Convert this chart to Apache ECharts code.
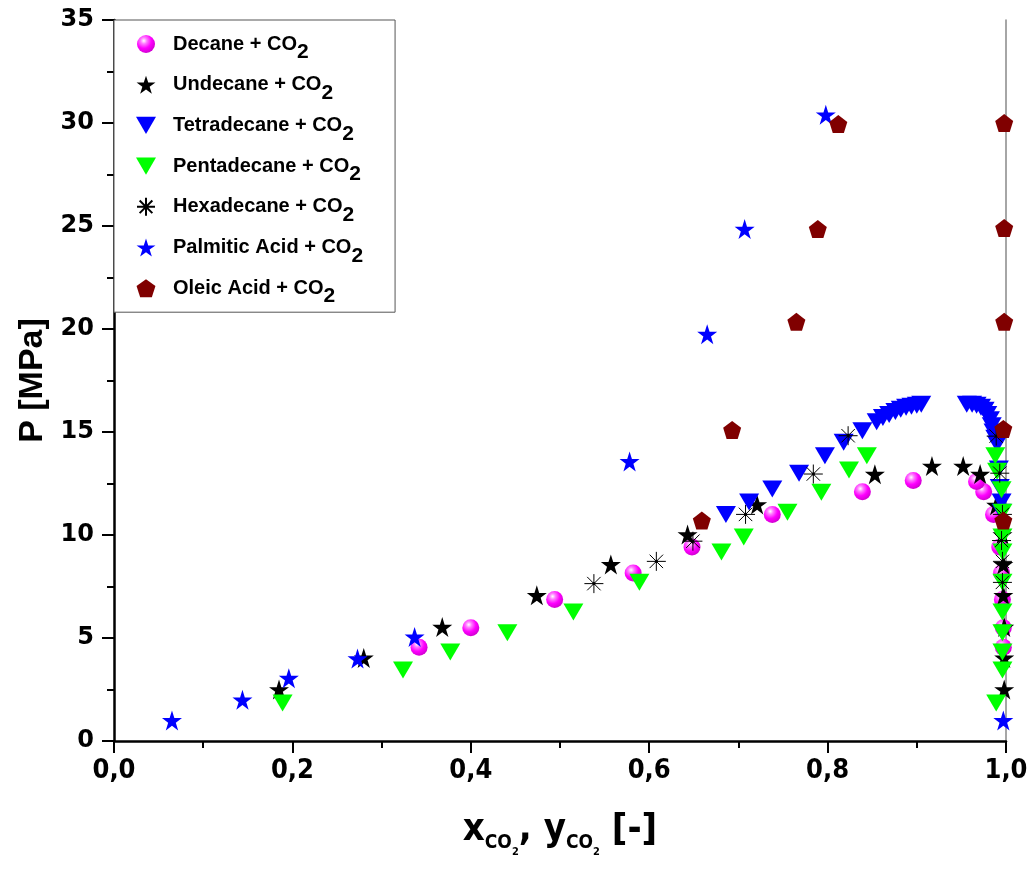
<!DOCTYPE html>
<html><head><meta charset="utf-8">
<script src="https://cdn.jsdelivr.net/npm/echarts@6/dist/echarts.min.js"></script>
<style>html,body{margin:0;padding:0;background:#fff}#c{width:1032px;height:872px}</style>
</head><body><div id="c"></div>
<script>
// ---- data (x = CO2 mole fraction, P in MPa) ----
const seriesNames = ['Decane + CO2','Undecane + CO2','Tetradecane + CO2','Pentadecane + CO2','Hexadecane + CO2','Palmitic Acid + CO2','Oleic Acid + CO2'];

const decaneX = [0.342,0.400,0.494,0.582,0.648,0.738,0.839,0.896,0.997,0.997,0.996,0.995,0.993,0.986,0.975,0.967];
const decaneP = [4.55,5.50,6.87,8.15,9.42,11.00,12.10,12.65,4.55,5.50,6.87,8.15,9.42,11.00,12.10,12.60];

const undecaneX = [0.185,0.280,0.368,0.474,0.557,0.643,0.721,0.853,0.917,0.998,0.998,0.998,0.997,0.997,0.996,0.989,0.971,0.952];
const undecaneP = [2.50,4.03,5.53,7.07,8.57,10.02,11.48,12.95,13.35,2.50,4.03,5.53,7.07,8.57,10.02,11.45,12.96,13.35];

const tetradecaneX = [0.686,0.712,0.738,0.768,0.797,0.818,0.839,0.855,0.862,0.869,0.876,0.882,0.888,0.894,0.900,0.905,0.956,0.962,0.967,0.972,0.976,0.979,0.982,0.984,0.986,0.988,0.990,0.992,0.993,0.995,0.995];
const tetradecaneP = [11.00,11.60,12.23,13.00,13.85,14.50,15.06,15.50,15.70,15.85,16.00,16.10,16.20,16.25,16.30,16.35,16.35,16.35,16.30,16.20,16.05,15.85,15.60,15.30,15.00,14.70,14.40,13.20,12.30,11.60,11.10];

const pentadecaneX = [0.189,0.324,0.377,0.441,0.515,0.589,0.681,0.706,0.755,0.793,0.824,0.844,0.989,0.996,0.996,0.996,0.996,0.996,0.996,0.996,0.996,0.995,0.990,0.988];
const pentadecaneP = [1.85,3.45,4.32,5.25,6.26,7.71,9.17,9.90,11.10,12.07,13.15,13.85,1.85,3.45,4.32,5.25,6.26,7.71,9.17,9.90,11.10,12.20,13.10,13.85];

const hexadecaneX = [0.538,0.608,0.649,0.708,0.784,0.823,0.996,0.996,0.995,0.996,0.993,0.989];
const hexadecaneP = [7.64,8.72,9.70,11.00,12.96,14.82,7.70,8.72,9.73,11.00,13.00,14.80];

const palmiticX = [0.065,0.144,0.196,0.273,0.337,0.578,0.665,0.707,0.798,0.997];
const palmiticP = [1.00,2.00,3.05,4.00,5.05,13.57,19.75,24.85,30.40,1.00];

const oleicX = [0.659,0.693,0.765,0.789,0.812,0.997,0.997,0.998,0.998,0.998];
const oleicP = [10.70,15.10,20.35,24.85,29.95,10.70,15.15,20.35,24.90,30.00];

const xTickValues = [0.0,0.2,0.4,0.6,0.8,1.0];
const yTickValues = [0,5,10,15,20,25,30,35];

// ---- symbols ----
const STAR = 'path://M10,0 L12.245,6.91 L19.511,6.91 L13.633,11.18 L15.878,18.09 L10,13.82 L4.122,18.09 L6.367,11.18 L0.489,6.91 L7.755,6.91 Z';
const PENT = 'path://M10,0 L19.511,6.91 L15.878,18.09 L4.122,18.09 L0.489,6.91 Z';
const TRI = 'path://M0,0 L20,0 L10,17.3 Z';
const AST = 'path://M10,0 L10,20 M0,10 L20,10 M2.93,2.93 L17.07,17.07 M17.07,2.93 L2.93,17.07 M9,9 L11,9 L11,11 L9,11 Z';

function zip(xs, ps){ return xs.map((x,i)=>[x, ps[i]]); }

const NARROW = "'DejaVu Sans Condensed', 'Liberation Sans Narrow', 'Arial Narrow', sans-serif";

const sphere = {type:'radial', x:0.38, y:0.32, r:0.7, colorStops:[
  {offset:0, color:'#ffffff'},{offset:0.25, color:'#ff7bff'},{offset:0.6, color:'#ff00ff'},{offset:1, color:'#d000d0'}]};

const chart = echarts.init(document.getElementById('c'));
const sub = {fontSize:21, fontWeight:'bold', fontFamily:'Liberation Sans', color:'#000', padding:[17,0,0,0]};
chart.setOption({
  animation:false,
  backgroundColor:'#fff',
  grid:{left:114, right:26, top:20, bottom:131},
  legend:{
    orient:'vertical', left:114, top:20,
    padding:[14,32,5,22],
    itemWidth:20, itemHeight:18, itemGap:11.7,
    borderColor:'#555', borderWidth:1, backgroundColor:'#fff',
    data: seriesNames,
    formatter: n => '{n|' + n.slice(0,-1) + '}{s|2}',
    textStyle:{padding:[0,0,0,12], rich:{
      n:{fontSize:20, fontWeight:'bold', fontFamily:'Liberation Sans', color:'#000'},
      s:sub
    }}
  },
  xAxis:{
    type:'value', min:0, max:1, interval:0.2,
    name:'{m|x}{c|CO}{t|2}{m|, y}{c|CO}{t|2}{m| [-]}',
    nameLocation:'middle', nameGap:62,
    nameTextStyle:{rich:{
      m:{fontSize:38, fontWeight:'bold', fontFamily:NARROW, color:'#000'},
      c:{fontSize:19, fontWeight:'bold', fontFamily:NARROW, color:'#000', padding:[26,0,0,0]},
      t:{fontSize:11, fontWeight:'bold', fontFamily:NARROW, color:'#000', padding:[44,0,0,0]}
    }},
    axisLine:{lineStyle:{color:'#000', width:2.5}},
    axisTick:{length:12, lineStyle:{color:'#000', width:2}},
    minorTick:{show:true, splitNumber:2, length:7, lineStyle:{color:'#000', width:2}},
    splitLine:{show:false},
    axisLabel:{margin:16, fontSize:27, fontWeight:'bold', fontFamily:NARROW, color:'#000',
      formatter: v => v.toFixed(1).replace('.', ',')}
  },
  yAxis:[{
    type:'value', min:0, max:35, interval:5,
    name:'P [MPa]', nameLocation:'middle', nameGap:52, nameRotate:90,
    nameTextStyle:{fontSize:34, fontWeight:'bold', fontFamily:'Liberation Sans', color:'#000'},
    axisLine:{show:true, lineStyle:{color:'#000', width:2.5}},
    axisTick:{length:12, lineStyle:{color:'#000', width:2}},
    minorTick:{show:true, splitNumber:2, length:7, lineStyle:{color:'#000', width:2}},
    splitLine:{show:false},
    axisLabel:{margin:20, fontSize:24, fontWeight:'bold', fontFamily:'DejaVu Sans', color:'#000'}
  },{
    type:'value', min:0, max:35, interval:5, position:'right',
    axisLine:{show:true, lineStyle:{color:'#888', width:1.5}},
    axisTick:{show:false}, axisLabel:{show:false}, splitLine:{show:false}
  }],
  series:[
    {name:seriesNames[0], type:'scatter', symbol:'circle', symbolSize:17, data:zip(decaneX,decaneP), itemStyle:{color:sphere, opacity:1}},
    {name:seriesNames[1], type:'scatter', symbol:STAR, symbolSize:20, data:zip(undecaneX,undecaneP), itemStyle:{color:'#000', opacity:1}},
    {name:seriesNames[2], type:'scatter', symbol:TRI, symbolSize:[20,17], data:zip(tetradecaneX,tetradecaneP), itemStyle:{color:'#0000ff', opacity:1}},
    {name:seriesNames[3], type:'scatter', symbol:TRI, symbolSize:[20,17], data:zip(pentadecaneX,pentadecaneP), itemStyle:{color:'#00ff00', opacity:1}},
    {name:seriesNames[4], type:'scatter', symbol:AST, symbolSize:19, data:zip(hexadecaneX,hexadecaneP), itemStyle:{color:'#000', borderColor:'#000', borderWidth:1, opacity:1}},
    {name:seriesNames[5], type:'scatter', symbol:STAR, symbolSize:20, data:zip(palmiticX,palmiticP), itemStyle:{color:'#0000ff', opacity:1}},
    {name:seriesNames[6], type:'scatter', symbol:PENT, symbolSize:18, data:zip(oleicX,oleicP), itemStyle:{color:'#800000', opacity:1}}
  ]
});
</script></body></html>
